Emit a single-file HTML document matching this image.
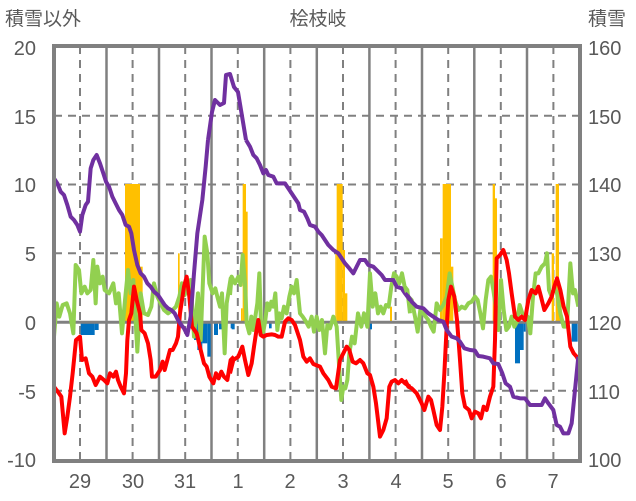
<!DOCTYPE html>
<html><head><meta charset="utf-8"><style>
html,body{margin:0;padding:0;background:#fff;}
svg{display:block;}
text{font-family:"Liberation Sans","Noto Sans CJK JP",sans-serif;fill:#595959;}
</style></head><body>
<svg width="636" height="501" viewBox="0 0 636 501" xmlns="http://www.w3.org/2000/svg">
<text x="5" y="25" font-size="19">積雪以外</text>
<text x="318" y="25" font-size="19" text-anchor="middle">桧枝岐</text>
<text x="588" y="25" font-size="19">積雪</text>
<g font-size="20" text-anchor="end">
<text x="36" y="55">20</text><text x="36" y="124">15</text><text x="36" y="192">10</text>
<text x="36" y="261">5</text><text x="36" y="330">0</text><text x="36" y="399">-5</text><text x="36" y="467">-10</text>
</g>
<g font-size="20">
<text x="588" y="55">160</text><text x="588" y="124">150</text><text x="588" y="192">140</text>
<text x="588" y="261">130</text><text x="588" y="330">120</text><text x="588" y="399">110</text><text x="588" y="467">100</text>
</g>
<g font-size="20" text-anchor="middle">
<text x="80" y="488">29</text><text x="133" y="488">30</text><text x="185" y="488">31</text><text x="238" y="488">1</text><text x="290" y="488">2</text>
<text x="343" y="488">3</text><text x="396" y="488">4</text><text x="448" y="488">5</text><text x="501" y="488">6</text><text x="553" y="488">7</text>
</g>
<!-- grid -->
<g stroke="#808080" stroke-width="2" stroke-dasharray="8,6">
<line x1="54" x2="580" y1="115.8" y2="115.8"/><line x1="54" x2="580" y1="184.5" y2="184.5"/>
<line x1="54" x2="580" y1="253.3" y2="253.3"/><line x1="54" x2="580" y1="390.8" y2="390.8"/>
<line x1="80" x2="80" y1="46" y2="461"/><line x1="132.6" x2="132.6" y1="46" y2="461"/><line x1="185.2" x2="185.2" y1="46" y2="461"/>
<line x1="237.8" x2="237.8" y1="46" y2="461"/><line x1="290.4" x2="290.4" y1="46" y2="461"/><line x1="343" x2="343" y1="46" y2="461"/>
<line x1="395.6" x2="395.6" y1="46" y2="461"/><line x1="448.2" x2="448.2" y1="46" y2="461"/><line x1="500.8" x2="500.8" y1="46" y2="461"/>
<line x1="553.4" x2="553.4" y1="46" y2="461"/>
</g>
<g stroke="#808080" stroke-width="2.5">
<line x1="106.5" x2="106.5" y1="46" y2="461"/><line x1="159" x2="159" y1="46" y2="461"/><line x1="211.5" x2="211.5" y1="46" y2="461"/>
<line x1="264.2" x2="264.2" y1="46" y2="461"/><line x1="316.8" x2="316.8" y1="46" y2="461"/><line x1="369.4" x2="369.4" y1="46" y2="461"/>
<line x1="422" x2="422" y1="46" y2="461"/><line x1="474.3" x2="474.3" y1="46" y2="461"/><line x1="527" x2="527" y1="46" y2="461"/>
</g>
<!-- bars -->
<g transform="translate(54,140) scale(0.33333)">
<g fill="#FFC000">
<rect x="213" y="132" width="45" height="415"/><rect x="258" y="380" width="8" height="167"/><rect x="372" y="340" width="5" height="207"/>
</g>
<g fill="#0070C0">
<rect x="80" y="547" width="42" height="38"/><rect x="122" y="547" width="12" height="23"/>
<rect x="420" y="547" width="10" height="53"/><rect x="430" y="547" width="15" height="83"/><rect x="445" y="547" width="15" height="63"/>
<rect x="460" y="547" width="10" height="103"/><rect x="480" y="547" width="12" height="38"/><rect x="495" y="547" width="15" height="21"/>
<rect x="510" y="547" width="6" height="98"/><rect x="530" y="547" width="10" height="18"/>
</g>
</g>
<g transform="translate(230,140) scale(0.33333)">
<g fill="#FFC000">
<rect x="38" y="132" width="10" height="415"/><rect x="48" y="215" width="5" height="332"/><rect x="33" y="505" width="5" height="42"/>
<rect x="320" y="132" width="18" height="415"/><rect x="316" y="330" width="4" height="217"/><rect x="338" y="330" width="7" height="217"/>
<rect x="345" y="460" width="7" height="87"/><rect x="480" y="500" width="6" height="47"/>
</g>
<g fill="#0070C0"><rect x="5" y="547" width="9" height="21"/><rect x="117" y="547" width="8" height="18"/><rect x="420" y="547" width="6" height="21"/></g>
</g>
<g transform="translate(405,140) scale(0.33333)">
<g fill="#FFC000">
<rect x="113" y="132" width="25" height="415"/><rect x="105" y="295" width="8" height="252"/><rect x="138" y="380" width="7" height="167"/>
<rect x="263" y="132" width="7" height="415"/><rect x="270" y="175" width="6" height="372"/><rect x="440" y="340" width="7" height="207"/>
<rect x="452" y="132" width="10" height="415"/><rect x="462" y="450" width="8" height="97"/>
</g>
<g fill="#0070C0"><rect x="330" y="547" width="15" height="123"/><rect x="345" y="547" width="11" height="83"/><rect x="356" y="547" width="6" height="28"/><rect x="500" y="547" width="18" height="58"/></g>
</g>
<line x1="54" x2="580" y1="322.3" y2="322.3" stroke="#808080" stroke-width="3"/>
<!-- lines -->
<g fill="none" stroke-width="4" stroke-linejoin="round">
<g transform="translate(54,140) scale(0.33333)">
<polyline vector-effect="non-scaling-stroke" stroke="#92D050" points="0,590 8,490 16,530 26,495 38,490 48,520 58,580 65,375 75,390 82,460 92,440 100,460 110,450 118,360 125,490 130,380 138,430 146,410 152,450 165,460 178,430 186,490 194,460 204,580 214,470 222,390 230,460 238,420 250,635 260,460 270,520 282,525 292,500 300,430 310,470 320,490 330,510 342,520 356,510 366,500 376,470 384,430 392,465 400,440 410,420 420,590 432,460 440,600 452,290 460,340 466,430 476,460 484,445 490,470 498,500 504,460 512,640 518,490 530,415 540,430"/>
<polyline vector-effect="non-scaling-stroke" stroke="#FF0000" points="0,740 15,760 22,770 32,880 40,830 48,770 56,700 66,600 78,590 84,660 95,655 105,700 115,710 125,735 138,710 150,720 160,730 168,700 178,710 186,695 192,720 200,740 210,760 216,700 220,600 225,540 232,520 240,440 248,480 258,520 262,570 272,580 282,610 290,660 294,710 305,710 318,690 326,665 332,690 340,660 348,630 356,630 366,610 372,590 378,520 390,440 398,410 406,470 414,560 428,580 440,630 450,670 458,680 466,710 478,730 486,700 494,715 502,695 510,710 520,720 530,660 540,650"/>
<polyline vector-effect="non-scaling-stroke" stroke="#7030A0" points="0,115 10,130 20,155 30,165 40,195 50,230 60,240 70,255 78,275 85,225 95,195 102,185 110,85 118,60 128,45 138,70 148,100 156,125 165,140 175,170 185,190 195,210 205,225 215,255 225,260 232,280 240,330 250,375 260,400 270,410 280,430 290,440 300,455 312,465 322,480 332,495 342,505 352,510 362,520 372,540 382,555 390,565 400,585 410,530 420,400 430,280 445,180 455,80 462,0"/>
</g>
<polyline stroke="#7030A0" points="208,140 212,112 215,100 220,105 224,103 226,75 230,74 234,87 238,92 246,140"/>
<g transform="translate(230,140) scale(0.33333)">
<polyline vector-effect="non-scaling-stroke" stroke="#92D050" points="0,465 5,410 15,430 25,410 32,435 38,345 45,430 50,550 58,580 64,530 70,570 76,530 82,490 88,400 94,580 100,575 106,540 112,490 118,510 124,485 130,500 136,460 142,570 148,520 155,535 162,500 170,520 178,470 185,440 192,460 200,420 210,520 218,530 228,545 236,560 245,530 252,575 260,530 268,570 276,540 285,640 292,555 300,565 310,530 320,560 328,690 334,780 340,740 346,745 352,720 358,640 366,590 374,610 384,520 394,560 402,520 412,560 420,400 428,500 436,460 444,520 452,500 460,520 468,495 476,500 484,440 492,400 500,410 508,430 516,400 524,440 532,450 540,520"/>
<polyline vector-effect="non-scaling-stroke" stroke="#FF0000" points="0,700 10,660 25,650 37,620 45,660 55,705 65,670 72,620 78,580 85,540 92,585 100,590 110,585 125,583 135,585 145,590 155,590 165,545 175,535 185,540 195,555 210,600 220,650 230,665 240,655 250,672 260,676 270,680 280,700 295,720 305,740 318,745 330,660 340,640 350,620 358,630 368,665 378,670 390,660 400,670 412,700 420,705 430,740 438,790 450,890 460,870 470,835 478,740 485,725 495,720 505,730 515,720 525,730 540,740"/>
<polyline vector-effect="non-scaling-stroke" stroke="#7030A0" points="48,0 60,20 70,45 80,55 90,75 100,100 108,90 115,105 130,110 140,130 165,130 175,145 185,160 195,175 205,190 210,210 222,215 232,235 240,255 255,260 265,275 275,285 285,300 295,315 310,330 325,340 335,355 345,370 358,385 370,400 380,380 390,360 405,360 415,375 430,380 440,390 455,405 465,420 490,420 500,440 515,445 525,460 540,480"/>
</g>
<g transform="translate(405,140) scale(0.33333)">
<polyline vector-effect="non-scaling-stroke" stroke="#92D050" points="0,440 10,470 20,480 30,530 38,575 46,510 55,520 62,530 70,540 78,560 86,575 95,490 105,510 115,495 125,470 134,400 142,440 150,480 160,510 170,500 180,505 190,490 200,485 210,470 218,480 226,520 234,565 242,480 250,420 258,410 265,450 272,500 280,570 288,420 296,510 304,570 312,560 320,530 328,560 336,545 344,495 352,520 360,540 368,530 376,580 384,470 392,400 400,400 410,380 420,370 426,340 432,450 440,470 448,440 456,460 466,520 476,560 486,560 496,370 504,460 510,450 520,500"/>
<polyline vector-effect="non-scaling-stroke" stroke="#FF0000" points="0,720 10,740 20,745 35,760 50,790 58,810 70,770 78,780 85,810 95,855 105,870 112,800 118,700 124,580 130,480 138,440 148,470 156,540 165,660 172,760 180,800 192,810 200,835 210,815 220,820 228,835 236,800 245,810 255,770 265,740 270,600 275,355 285,345 295,330 305,360 312,400 320,460 330,530 340,540 350,530 360,540 370,480 380,450 392,460 400,440 408,470 418,510 430,490 440,470 448,440 456,415 466,450 476,500 486,530 496,620 506,640 515,650 520,660"/>
<polyline vector-effect="non-scaling-stroke" stroke="#7030A0" points="0,460 10,470 20,485 35,500 55,505 70,520 85,530 100,540 115,545 125,570 140,590 155,595 165,605 178,625 195,630 210,632 220,648 235,650 255,655 265,670 280,672 292,700 302,730 315,740 325,770 345,775 360,775 375,795 395,795 410,795 420,775 430,790 445,810 455,855 465,860 475,880 490,880 500,850 510,750 520,650"/>
</g>
</g>
<rect x="54" y="46" width="526" height="415" fill="none" stroke="#808080" stroke-width="4"/>
</svg>
</body></html>
